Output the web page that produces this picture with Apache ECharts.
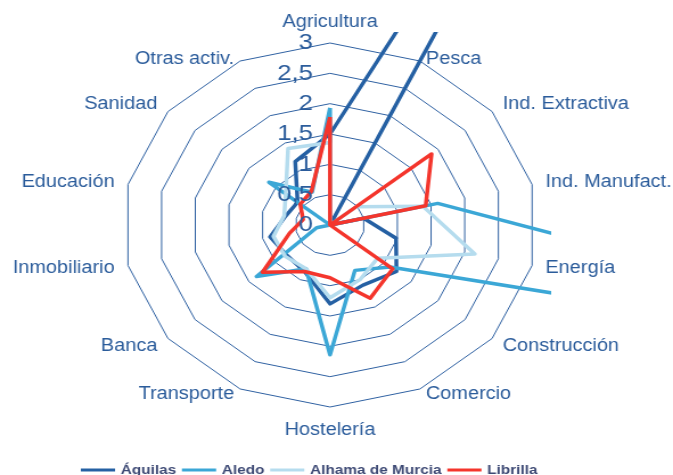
<!DOCTYPE html>
<html>
<head>
<meta charset="utf-8">
<script src="https://cdn.jsdelivr.net/npm/echarts@6/dist/echarts.min.js"></script>
<style>
  html, body { margin: 0; padding: 0; background: #fff; overflow: hidden; }
  /* the source picture is stretched sideways (rings are ellipses), so draw narrow and scale */
  #chart { width: 591px; height: 475px; transform: scaleX(1.13875); transform-origin: 0 0; }
</style>
</head>
<body>
<div id="chart"></div>
<script>
const categories = ['Agricultura', 'Pesca', 'Ind. Extractiva', 'Ind. Manufact.', 'Energía',
  'Construcción', 'Comercio', 'Hostelería', 'Transporte', 'Banca', 'Inmobiliario',
  'Educación', 'Sanidad', 'Otras activ.'];

// values, same order as categories
const aguilas = [1.5, 10.7, 0, 0.5, 0.98, 1.23, 1.1, 1.3, 0.85, 0.8, 0.89, 0.66, 0.6, 1.16];
const aledo = [1.93, 0, 0, 1.6, 12, 1.11, 0.83, 2.14, 0.8, 1.36, 0.2, 0, 1.13, 0.6];
const alhama = [1.36, 0, 0.48, 1.38, 2.15, 0.88, 1.0, 1.2, 0.8, 0.83, 0.84, 0.68, 0.82, 1.4];
const librilla = [1.78, 0, 1.88, 1.42, 0, 1.16, 1.34, 0.87, 0.85, 1.25, 0.6, 0.4, 0.55, 0.62];

const axisMax = 3;
const rings = 6; // 0, 0.5 ... 3

const FONT = '"Liberation Sans", Arial, sans-serif';
const BLUE_TEXT = '#2b5c9b';
const CENTER = [289.8, 225];
const RADIUS = 182;

// a few names sit a little lower / higher in the original
const nameNudge = { Pesca: 'down', 'Otras activ.': 'down', Comercio: 'up', Transporte: 'up', 'Hostelería': 'low' };

// echarts lays radar axes out counter-clockwise, the source goes clockwise
const clockwise = (arr) => [arr[0], ...arr.slice(1).reverse()];

const makeIndicators = () => clockwise(categories).map((name) => ({ name, min: 0, max: axisMax }));

const seriesDefs = [
  { name: 'Águilas', values: aguilas, color: '#2560a3' },
  { name: 'Aledo', values: aledo, color: '#3ba7d6' },
  { name: 'Alhama de Murcia', values: alhama, color: '#b5dcee' },
  { name: 'Librilla', values: librilla, color: '#f4352c' },
];

const labelIndicators = makeIndicators();
labelIndicators[0].axisLabel = { show: true }; // only the vertical axis carries numbers

const nameStyle = { color: BLUE_TEXT, fontSize: 17.5, fontFamily: FONT };

const option = {
  animation: false,
  radar: [
    {
      // rings only
      indicator: makeIndicators(),
      center: CENTER,
      radius: RADIUS,
      shape: 'polygon',
      splitNumber: rings,
      z: 0,
      axisName: { show: false },
      axisLine: { show: false },
      axisTick: { show: false },
      axisLabel: { show: false },
      splitArea: { show: false },
      splitLine: { lineStyle: { color: '#2f61a2', width: 1 } },
    },
    {
      // names and numbers, drawn above the lines
      indicator: labelIndicators,
      center: CENTER,
      radius: RADIUS,
      shape: 'polygon',
      splitNumber: rings,
      z: 10,
      nameGap: 12,
      axisName: {
        ...nameStyle,
        formatter: (name) => `{${nameNudge[name] || 'n'}|${name}}`,
        rich: {
          n: { ...nameStyle },
          down: { ...nameStyle, padding: [18, 0, 0, 0] },
          low: { ...nameStyle, padding: [2, 0, 0, 0] },
          up: { ...nameStyle, padding: [0, 0, 12, 0] },
        },
      },
      axisLine: { show: false },
      axisTick: { show: false },
      splitArea: { show: false },
      splitLine: { show: false },
      axisLabel: {
        show: false,
        margin: 15,
        color: BLUE_TEXT,
        fontSize: 22.5,
        fontFamily: FONT,
        formatter: (v) => String(v).replace('.', ','),
      },
    },
  ],
  legend: {
    data: seriesDefs.map((s) => s.name),
    left: 66,
    top: 458,
    icon: 'rect',
    itemWidth: 30,
    itemHeight: 3,
    itemGap: 5,
    textStyle: { fontFamily: FONT, fontSize: 13.5, fontWeight: 'bold', color: '#3e4a75' },
  },
  // plot-area clip of the original: hide the parts of the long spikes past its edge
  graphic: {
    elements: [
      { type: 'rect', z: 5, shape: { x: 336, y: 0, width: 82, height: 32 }, style: { fill: '#fff' } },
      { type: 'rect', z: 5, shape: { x: 484, y: 220, width: 107, height: 36 }, style: { fill: '#fff' } },
      { type: 'rect', z: 5, shape: { x: 540, y: 250, width: 51, height: 26 }, style: { fill: '#fff' } },
      { type: 'rect', z: 5, shape: { x: 484, y: 282, width: 107, height: 40 }, style: { fill: '#fff' } },
    ],
  },
  series: seriesDefs.map((s) => ({
    type: 'radar',
    radarIndex: 0,
    name: s.name,
    symbol: 'none',
    z: 2,
    lineStyle: { color: s.color, width: 3.5 },
    itemStyle: { color: s.color },
    data: [{ name: s.name, value: clockwise(s.values) }],
  })),
};

const chart = echarts.init(document.getElementById('chart'));
chart.setOption(option);
</script>
</body>
</html>
